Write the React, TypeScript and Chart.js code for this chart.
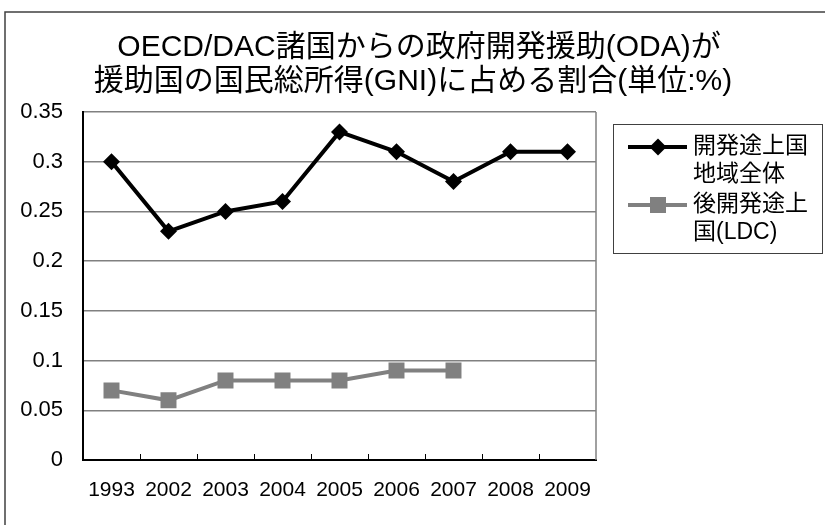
import React, { useEffect, useRef } from "react";
import { Chart, registerables } from "chart.js";

Chart.register(...registerables);

const categories = ["1993", "2002", "2003", "2004", "2005", "2006", "2007", "2008", "2009"];
const allDeveloping = [0.3, 0.23, 0.25, 0.26, 0.33, 0.31, 0.28, 0.31, 0.31];
const ldc = [0.07, 0.06, 0.08, 0.08, 0.08, 0.09, 0.09, null, null];
const titleLines = ["OECD/DAC諸国からの政府開発援助(ODA)が", "援助国の国民総所得(GNI)に占める割合(単位:%)"];
const legendItems = [
  { lines: ["開発途上国", "地域全体"], color: "#000000", shape: "diamond" },
  { lines: ["後開発途上", "国(LDC)"], color: "#808080", shape: "square" },
];

const FONT = '"Liberation Sans", "Noto Sans CJK JP", Arial, sans-serif';

const decorPlugin = {
  id: "decor",
  beforeDatasetsDraw(chart: any) {
    const { ctx, chartArea, scales } = chart;
    ctx.save();
    ctx.strokeStyle = "#808080";
    ctx.lineWidth = 1.5;
    ctx.beginPath();
    ctx.moveTo(chartArea.right, chartArea.top);
    ctx.lineTo(chartArea.right, chartArea.bottom);
    ctx.stroke();
    const xs = scales.x;
    const n = categories.length;
    const step = xs.getPixelForValue(1) - xs.getPixelForValue(0);
    ctx.strokeStyle = "#000000";
    ctx.lineWidth = 1;
    for (let i = 1; i < n; i++) {
      const x = Math.round(xs.getPixelForValue(i) - step / 2) + 0.5;
      ctx.beginPath();
      ctx.moveTo(x, chartArea.bottom);
      ctx.lineTo(x, chartArea.bottom - 6);
      ctx.stroke();
    }
    ctx.restore();
  },
  afterDraw(chart: any) {
    const { ctx } = chart;
    ctx.save();
    ctx.strokeStyle = "#404040";
    ctx.lineWidth = 1.5;
    ctx.strokeRect(5, 12, 840, 540);
    ctx.fillStyle = "#000000";
    ctx.font = `30px ${FONT}`;
    ctx.textAlign = "center";
    ctx.textBaseline = "middle";
    ctx.fillText(titleLines[0], 419, 48);
    ctx.fillText(titleLines[1], 413, 82);
    ctx.strokeStyle = "#404040";
    ctx.lineWidth = 1;
    ctx.strokeRect(613.5, 124.5, 209, 129);
    ctx.font = `23px ${FONT}`;
    ctx.textAlign = "left";
    const starts = [147, 205];
    legendItems.forEach((it, idx) => {
      const y = starts[idx];
      ctx.strokeStyle = it.color;
      ctx.fillStyle = it.color;
      ctx.lineWidth = 4;
      ctx.beginPath();
      ctx.moveTo(628, y);
      ctx.lineTo(687, y);
      ctx.stroke();
      ctx.beginPath();
      if (it.shape === "diamond") {
        const r = 8.5;
        ctx.moveTo(658 - r, y);
        ctx.lineTo(658, y - r);
        ctx.lineTo(658 + r, y);
        ctx.lineTo(658, y + r);
        ctx.closePath();
      } else {
        ctx.rect(658 - 8, y - 8, 16, 16);
      }
      ctx.fill();
      ctx.fillStyle = "#000000";
      it.lines.forEach((t, j) => ctx.fillText(t, 693, y + j * 28));
    });
    ctx.restore();
  },
};

export default function App() {
  const ref = useRef<HTMLCanvasElement>(null);
  useEffect(() => {
    if (!ref.current) return;
    const chart = new Chart(ref.current, {
      type: "line",
      data: {
        labels: categories,
        datasets: [
          {
            label: "開発途上国地域全体",
            data: allDeveloping,
            borderColor: "#000000",
            backgroundColor: "#000000",
            borderWidth: 4,
            pointStyle: "rectRot",
            pointRadius: 8.5,
            pointBorderWidth: 0,
            tension: 0,
          },
          {
            label: "後開発途上国(LDC)",
            data: ldc,
            borderColor: "#808080",
            backgroundColor: "#808080",
            borderWidth: 4,
            pointStyle: "rect",
            pointRadius: 11.3,
            pointBorderWidth: 0,
            tension: 0,
          },
        ],
      },
      options: {
        animation: false,
        responsive: false,
        layout: { padding: { left: 0, top: 112, right: 229, bottom: 0 } },
        plugins: {
          legend: { display: false },
          title: { display: false },
          tooltip: { enabled: false },
        },
        scales: {
          x: {
            offset: true,
            grid: { display: false, drawTicks: false },
            border: { display: true, color: "#000000", width: 2 },
            ticks: {
              color: "#000000",
              font: { size: 21, family: FONT },
              padding: 18,
              maxRotation: 0,
              autoSkip: false,
            },
            afterFit(scale: any) {
              scale.height = 65;
            },
          },
          y: {
            min: 0,
            max: 0.35,
            grid: { color: "#808080", lineWidth: 1.5, drawTicks: false },
            border: { display: true, color: "#000000", width: 2 },
            ticks: {
              stepSize: 0.05,
              color: "#000000",
              font: { size: 22, family: FONT },
              padding: 20,
              callback: (v: any) => String(Number(Number(v).toFixed(2))),
            },
            afterFit(scale: any) {
              scale.width = 83;
            },
          },
        },
      },
      plugins: [decorPlugin],
    });
    return () => chart.destroy();
  }, []);
  return (
    <div style={{ position: "absolute", left: 0, top: 0, width: 825, height: 525, background: "#ffffff" }}>
      <canvas ref={ref} width={825} height={525} />
    </div>
  );
}
